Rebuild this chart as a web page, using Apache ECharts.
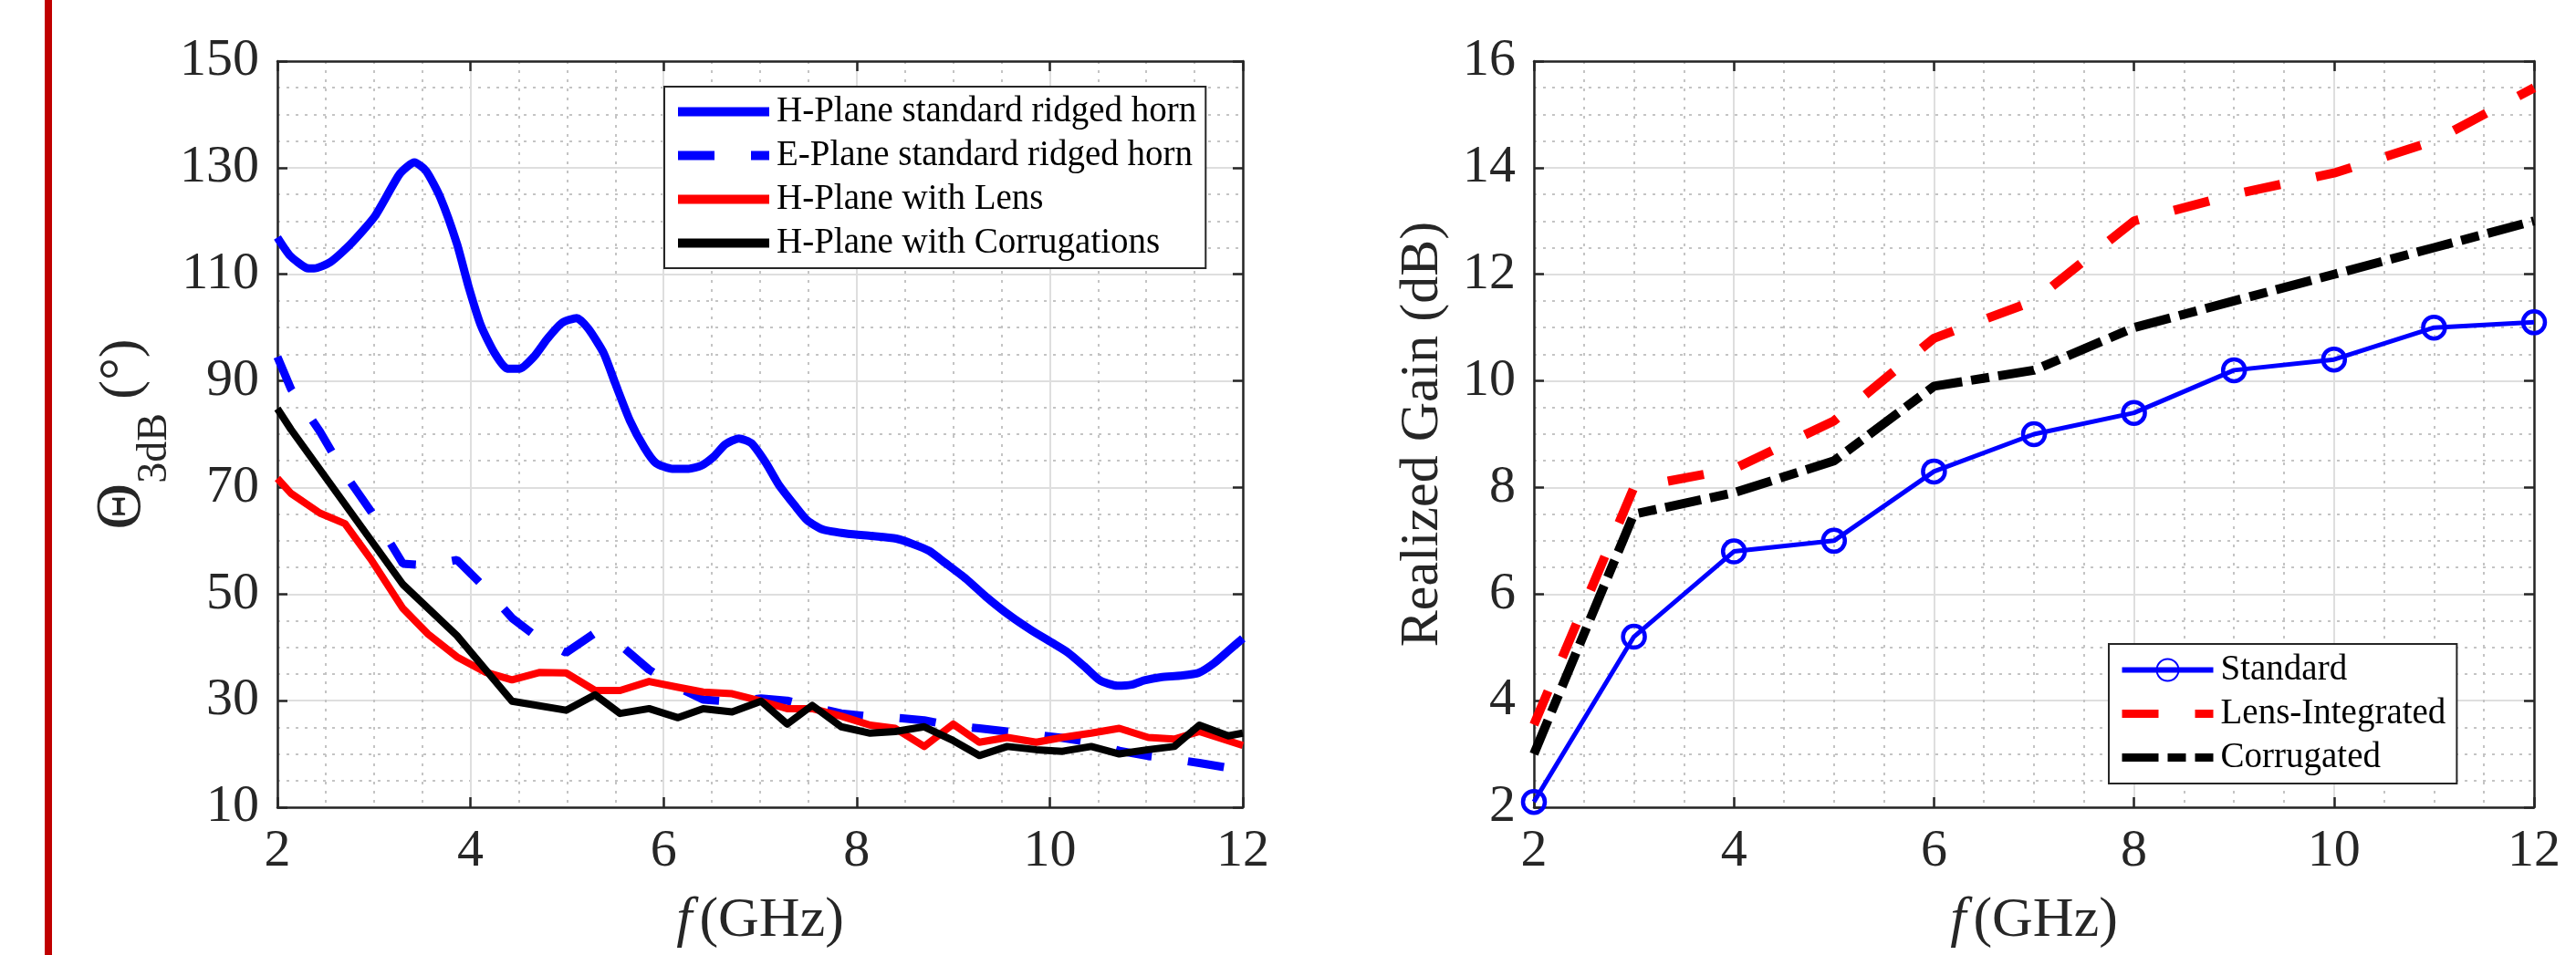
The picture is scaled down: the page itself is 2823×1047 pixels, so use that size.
<!DOCTYPE html>
<html>
<head>
<meta charset="utf-8">
<title>Beamwidth and gain</title>
<script src="https://cdn.jsdelivr.net/npm/echarts@6.0.0/dist/echarts.min.js"></script>
<style>
  html, body { margin: 0; padding: 0; background: #fff; }
  #main { width: 2823px; height: 1047px; }
</style>
</head>
<body>
<div id="main"></div>
<script>
// ---- left panel: 3 dB beamwidth (deg) vs f (GHz) ----
var hStdFreq = [2.0, 2.13, 2.3, 2.38, 2.55, 2.76, 3.01, 3.27, 3.42, 3.54,
  3.69, 3.86, 3.98, 4.11, 4.25, 4.38, 4.51, 4.66, 4.8, 4.95,
  5.1, 5.22, 5.38, 5.5, 5.65, 5.8, 5.92, 6.09, 6.26, 6.39,
  6.52, 6.64, 6.78, 6.91, 7.06, 7.19, 7.36, 7.49, 7.65, 7.91,
  8.16, 8.41, 8.58, 8.75, 8.92, 9.13, 9.34, 9.59, 9.81, 10.02,
  10.19, 10.36, 10.52, 10.7, 10.85, 10.98, 11.15, 11.35, 11.54, 11.7,
  11.86, 12.0];
var hStd = [116.9, 113.5, 111.2, 111.1, 112.3, 115.7, 120.9, 128.9, 131.0, 129.4,
  124.3, 115.7, 107.7, 100.3, 95.2, 92.3, 92.3, 94.6, 98.0, 100.9,
  101.8, 99.8, 95.2, 89.5, 82.6, 77.5, 74.6, 73.5, 73.5, 74.1,
  75.8, 78.1, 79.2, 78.3, 74.6, 70.6, 66.6, 63.8, 62.1, 61.3,
  60.9, 60.4, 59.4, 58.1, 55.8, 52.9, 49.5, 45.9, 43.2, 40.9,
  39.0, 36.4, 33.8, 32.8, 33.0, 33.8, 34.4, 34.7, 35.2, 37.0,
  39.5, 41.7];

var eStdFreq = [2.0, 2.14, 2.44, 2.70, 2.97, 3.30, 3.56, 3.86, 4.16, 4.43,
  4.72, 4.99, 5.29, 5.55, 5.85, 6.15, 6.41, 6.71, 7.01, 7.28,
  7.54, 7.84, 8.14, 8.40, 8.70, 9.0, 9.27, 9.56, 9.86, 10.13,
  10.43, 10.72, 11.02, 11.29, 11.55, 11.85, 12.0];
var eStd = [94.5, 88.5, 80.5, 72.5, 65.5, 55.7, 55.4, 56.4, 51.0, 45.5,
  41.5, 39.0, 42.7, 40.5, 35.8, 32.5, 30.2, 29.8, 30.4, 30.0,
  28.8, 27.6, 27.0, 26.8, 26.3, 25.3, 24.8, 24.2, 23.6, 23.0,
  22.2, 20.6, 19.6, 19.0, 18.3, 17.4, 17.0];

var hLensFreq = [2.0, 2.14, 2.44, 2.70, 2.97, 3.30, 3.56, 3.86, 4.16, 4.43,
  4.72, 4.99, 5.29, 5.55, 5.85, 6.15, 6.41, 6.71, 7.01, 7.28,
  7.54, 7.84, 8.14, 8.40, 8.70, 9.0, 9.27, 9.56, 9.86, 10.13,
  10.43, 10.72, 11.02, 11.29, 11.55, 12.0];
var hLens = [71.7, 68.9, 65.2, 63.2, 56.5, 47.3, 42.5, 38.2, 35.3, 33.9,
  35.3, 35.2, 31.9, 31.9, 33.6, 32.5, 31.6, 31.3, 29.9, 28.5,
  28.5, 27.1, 25.4, 24.8, 21.4, 25.6, 22.2, 23.1, 22.2, 23.1,
  23.9, 24.8, 23.1, 22.8, 24.2, 21.6];

var hCorrFreq = [2.0, 2.14, 3.30, 3.86, 4.43, 4.99, 5.29, 5.55, 5.85, 6.15,
  6.41, 6.71, 7.01, 7.28, 7.54, 7.84, 8.14, 8.40, 8.70, 9.0,
  9.27, 9.56, 9.86, 10.13, 10.43, 10.72, 11.02, 11.29, 11.55, 11.85,
  12.0];
var hCorr = [84.8, 80.9, 51.8, 42.2, 29.9, 28.2, 31.1, 27.6, 28.5, 26.8,
  28.5, 27.9, 29.9, 25.6, 29.1, 25.1, 23.9, 24.2, 25.1, 22.5,
  19.7, 21.4, 20.8, 20.5, 21.4, 20.0, 20.8, 21.4, 25.4, 23.4,
  23.9];

// ---- right panel: realized gain (dB) vs f (GHz) ----
var gainFreq = [2, 3, 4, 5, 6, 7, 8, 9, 10, 11, 12];
var gainStandard = [2.1, 5.2, 6.8, 7.0, 8.3, 9.0, 9.4, 10.2, 10.4, 11.0, 11.1];
var gainLens = [3.55, 8.0, 8.35, 9.25, 10.8, 11.5, 13.0, 13.5, 13.9, 14.5, 15.5];
var gainCorr = [3.0, 7.5, 7.9, 8.5, 9.9, 10.2, 11.0, 11.5, 12.0, 12.5, 13.0];

var leftLegend = ['H-Plane standard ridged horn', 'E-Plane standard ridged horn',
  'H-Plane with Lens', 'H-Plane with Corrugations'];
var rightLegend = ['Standard', 'Lens-Integrated', 'Corrugated'];

var FONT = 'Liberation Serif';
var AXIS_COLOR = '#262626';

function pairs(xs, ys) {
  return xs.map(function (x, i) { return [x, ys[i]]; });
}

// legend entry: thick line sample, marker hidden unless asked for
function entry(name, width, marker) {
  var e = { name: name, lineStyle: { width: width } };
  if (!marker) e.itemStyle = { opacity: 0 };
  return e;
}

// one matlab-style axis; "main" ones carry labels and grid, the others only close the box
function axis(gridIndex, pos, min, max, step, main, extra) {
  var a = {
    type: 'value', gridIndex: gridIndex, position: pos,
    min: min, max: max, interval: step,
    axisLine: { show: true, onZero: false, lineStyle: { color: AXIS_COLOR, width: 2.5 } },
    axisTick: { show: true, inside: true, length: 11, lineStyle: { color: AXIS_COLOR, width: 2.5 } },
    axisLabel: { show: main, fontSize: 58, fontFamily: FONT, color: AXIS_COLOR, margin: 20 },
    splitLine: { show: main, lineStyle: { color: '#dedede', width: 2 } },
    minorTick: { show: false, splitNumber: 4 },
    minorSplitLine: { show: main, lineStyle: { color: '#c4c4c4', width: 2, type: [3, 7] } }
  };
  for (var k in extra) a[k] = extra[k];
  return a;
}

var xName = {
  name: '{i|f}{n|(GHz)}', nameLocation: 'middle', nameGap: 94,
  nameTextStyle: {
    rich: {
      i: { fontSize: 62, fontFamily: FONT, fontStyle: 'italic', color: AXIS_COLOR, padding: [0, 8, 0, 0] },
      n: { fontSize: 62, fontFamily: FONT, color: AXIS_COLOR }
    }
  }
};

var legendBase = {
  orient: 'vertical', itemGap: 9, itemWidth: 100, itemHeight: 30,
  backgroundColor: '#fff', borderColor: AXIS_COLOR, borderWidth: 2,
  selectedMode: false,
  textStyle: { fontSize: 39, fontFamily: FONT, color: '#000', padding: [0, 0, 0, 3] }
};

var chart = echarts.init(document.getElementById('main'));
var option = {
  animation: false,
  backgroundColor: '#fff',
  graphic: [{
    type: 'rect', shape: { x: 49, y: 0, width: 8, height: 1047 },
    style: { fill: '#c00000' }, silent: true
  }],
  grid: [
    { left: 304, top: 67, width: 1058, height: 818 },
    { left: 1681, top: 67, width: 1096, height: 818 }
  ],
  xAxis: [
    axis(0, 'bottom', 2, 12, 2, true, xName),
    axis(0, 'top', 2, 12, 2, false, {}),
    axis(1, 'bottom', 2, 12, 2, true, xName),
    axis(1, 'top', 2, 12, 2, false, {})
  ],
  yAxis: [
    axis(0, 'left', 10, 150, 20, true, {
      name: '{t|Θ}{s|3dB}{u| (°)}', nameLocation: 'middle', nameRotate: 90, nameGap: 104,
      nameTextStyle: {
        rich: {
          t: { fontSize: 70, fontFamily: FONT, color: AXIS_COLOR },
          s: { fontSize: 46, fontFamily: FONT, color: AXIS_COLOR, padding: [70, 0, 0, 0] },
          u: { fontSize: 62, fontFamily: FONT, color: AXIS_COLOR }
        }
      }
    }),
    axis(0, 'right', 10, 150, 20, false, {}),
    axis(1, 'left', 2, 16, 2, true, {
      name: 'Realized Gain (dB)', nameLocation: 'middle', nameRotate: 90, nameGap: 92,
      nameTextStyle: { fontSize: 60, fontFamily: FONT, color: AXIS_COLOR }
    }),
    axis(1, 'right', 2, 16, 2, false, {})
  ],
  legend: [
    Object.assign({}, legendBase, {
      data: [entry(leftLegend[0], 10), entry(leftLegend[1], 10),
        entry(leftLegend[2], 10), entry(leftLegend[3], 10)],
      left: 728, top: 95, padding: [8, 10, 8, 10]
    }),
    Object.assign({}, legendBase, {
      data: [entry(rightLegend[0], 6, true), entry(rightLegend[1], 9), entry(rightLegend[2], 9)],
      left: 2311, top: 706, padding: [9, 12, 9, 10]
    })
  ],
  series: [
    {
      name: leftLegend[0], type: 'line', xAxisIndex: 0, yAxisIndex: 0,
      data: pairs(hStdFreq, hStd), symbol: 'none', smooth: 0.2,
      lineStyle: { color: '#0000ff', width: 9, join: 'round' }, itemStyle: { color: '#0000ff' }
    },
    {
      name: leftLegend[1], type: 'line', xAxisIndex: 0, yAxisIndex: 0,
      data: pairs(eStdFreq, eStd), symbol: 'none',
      lineStyle: { color: '#0000ff', width: 9, type: [40, 40] }, itemStyle: { color: '#0000ff' }
    },
    {
      name: leftLegend[2], type: 'line', xAxisIndex: 0, yAxisIndex: 0,
      data: pairs(hLensFreq, hLens), symbol: 'none',
      lineStyle: { color: '#ff0000', width: 8, join: 'round' }, itemStyle: { color: '#ff0000' }
    },
    {
      name: leftLegend[3], type: 'line', xAxisIndex: 0, yAxisIndex: 0,
      data: pairs(hCorrFreq, hCorr), symbol: 'none',
      lineStyle: { color: '#000000', width: 8, join: 'round' }, itemStyle: { color: '#000000' }
    },
    {
      name: rightLegend[0], type: 'line', xAxisIndex: 2, yAxisIndex: 2,
      data: pairs(gainFreq, gainStandard), symbol: 'circle', symbolSize: 24,
      lineStyle: { color: '#0000ff', width: 5 },
      itemStyle: { color: 'rgba(255,255,255,0)', borderColor: '#0000ff', borderWidth: 4.5 }
    },
    {
      name: rightLegend[1], type: 'line', xAxisIndex: 2, yAxisIndex: 2,
      data: pairs(gainFreq, gainLens), symbol: 'none',
      lineStyle: { color: '#ff0000', width: 10, type: [40, 40] }, itemStyle: { color: '#ff0000' }
    },
    {
      name: rightLegend[2], type: 'line', xAxisIndex: 2, yAxisIndex: 2,
      data: pairs(gainFreq, gainCorr), symbol: 'none',
      lineStyle: { color: '#000000', width: 10, type: [40, 10, 20, 10] }, itemStyle: { color: '#000000' }
    }
  ]
};
chart.setOption(option);
</script>
</body>
</html>
